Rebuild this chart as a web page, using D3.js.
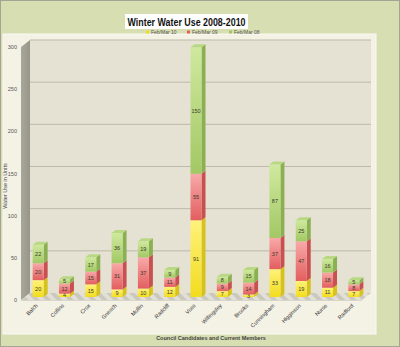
<!DOCTYPE html>
<html><head><meta charset="utf-8">
<script src="https://cdn.jsdelivr.net/npm/d3@7/dist/d3.min.js"></script>
<style>body{margin:0;background:#fff}svg{display:block}text{font-family:"Liberation Sans",Arial,sans-serif}</style>
</head><body><svg id="c" width="400" height="347"></svg>
<script>
const categories = ["Balch","Collins","Crox","Gnesch","Mullin","Radcliff","Voss","Willingsley","Brooks","Cunningham","Higginson","Nurse","Radford"];
const seriesNames = ["Feb/Mar 10","Feb/Mar 09","Feb/Mar 08"];
const feb10 = [20,4,15,9,10,12,91,7,3,33,19,11,7];
const feb09 = [20,12,15,31,37,11,55,9,14,37,47,18,8];
const feb08 = [22,5,17,36,19,9,150,8,15,87,25,16,5];
const yTicks = [0,50,100,150,200,250,300];

const svg = d3.select("#c");
const defs = svg.append("defs");
const cols = [
  {top:"#fff27a", bot:"#f2dc1e", side:"#d6c21a"},
  {top:"#f8a9a9", bot:"#e35e5e", side:"#c85050"},
  {top:"#cfe99e", bot:"#a2c864", side:"#8bb052"}
];
cols.forEach((c,i)=>{
  const g = defs.append("linearGradient").attr("id","g"+i).attr("x1",0).attr("y1",0).attr("x2",0).attr("y2",1);
  g.append("stop").attr("offset","0%").attr("stop-color",c.top);
  g.append("stop").attr("offset","100%").attr("stop-color",c.bot);
});
const sw = defs.append("linearGradient").attr("id","sideWall").attr("x1",0).attr("x2",1);
sw.append("stop").attr("offset","0%").attr("stop-color","#a8a79b");
sw.append("stop").attr("offset","100%").attr("stop-color","#979689");
const pat = defs.append("pattern").attr("id","hatch").attr("width",8).attr("height",8).attr("patternUnits","userSpaceOnUse").attr("patternTransform","rotate(-45)");
pat.append("rect").attr("width",8).attr("height",8).attr("fill","#cbc9bd");
pat.append("rect").attr("width",4).attr("height",8).attr("fill","#e2e0d6");

// background
svg.append("rect").attr("x",0.5).attr("y",0.5).attr("width",399).attr("height",346).attr("fill","#d7deb2").attr("stroke","#a3a592");
svg.append("rect").attr("x",3).attr("y",34).attr("width",373).attr("height",300).attr("fill","#f4f1e5").attr("stroke","#fbfaf3");

// geometry
const DX = 9, DY = -7;
const y = d3.scaleLinear().domain([0,300]).range([300,47]);
const x = d3.scaleBand().domain(categories).range([25,367]);
const xL = 21, xR = 362;

// back wall
svg.append("rect").attr("x",xL+DX).attr("y",y(300)+DY).attr("width",xR-xL).attr("height",y(0)-y(300)).attr("fill","#e5e2d3");
svg.append("g").selectAll("line").data(yTicks.filter(d=>d>0)).join("line")
  .attr("x1",xL+DX).attr("x2",xR+DX).attr("y1",d=>y(d)+DY).attr("y2",d=>y(d)+DY)
  .attr("stroke","#bdbaa9").attr("stroke-width",1);
// side wall
svg.append("polygon").attr("points",[[xL,y(300)],[xL+DX,y(300)+DY],[xL+DX,y(0)+DY],[xL,y(0)]].join(" ")).attr("fill","url(#sideWall)");
// floor
svg.append("polygon").attr("points",[[xL,y(0)],[xR,y(0)],[xR+DX,y(0)+DY],[xL+DX,y(0)+DY]].join(" ")).attr("fill","url(#hatch)");
svg.append("line").attr("x1",xL).attr("x2",xR).attr("y1",y(0)+0.5).attr("y2",y(0)+0.5).attr("stroke","#d8d6cb");

// y axis labels
svg.append("g").selectAll("text").data(yTicks).join("text")
  .attr("x",17).attr("y",d=>y(d)+2).attr("text-anchor","end")
  .attr("font-size",5.5).attr("fill","#555").text(d=>d);

// bars
const stack = d3.stack().keys([0,1,2])(categories.map((c,i)=>({0:feb10[i],1:feb09[i],2:feb08[i]})));
const BW = 11, BD = 4, BH = 3, base = -3;
const bars = svg.append("g");
categories.forEach((cat,i)=>{
  const cx = x(cat)+x.bandwidth()/2;
  const x0 = cx-BW/2, x1 = cx+BW/2;
  stack.forEach((s,k)=>{
    const y0 = y(s[i][0])+base, y1 = y(s[i][1])+base;
    bars.append("polygon").attr("points",[[x1,y0],[x1+BD,y0-BH],[x1+BD,y1-BH],[x1,y1]].join(" ")).attr("fill",cols[k].side);
    bars.append("rect").attr("x",x0).attr("y",y1).attr("width",BW).attr("height",y0-y1).attr("fill","url(#g"+k+")");
    if(k===2){
      bars.append("polygon").attr("points",[[x0,y1],[x0+BD,y1-BH],[x1+BD,y1-BH],[x1,y1]].join(" ")).attr("fill","#b8d883");
    }
    bars.append("text").attr("x",cx).attr("y",(y0+y1)/2+2).attr("text-anchor","middle")
      .attr("font-size",5.5).attr("fill","#3a3a2a").text(s[i].data[k]);
  });
  svg.append("text").attr("transform",`translate(${cx},306) rotate(-45)`).attr("text-anchor","end")
    .attr("font-size",5.5).attr("fill","#333").text(cat);
});

// axis titles
svg.append("text").attr("transform","translate(7,186) rotate(-90)").attr("text-anchor","middle")
  .attr("font-size",5.5).attr("fill","#444").text("Water Use in Units");
svg.append("text").attr("x",211).attr("y",340).attr("text-anchor","middle")
  .attr("font-size",5.5).attr("font-weight","bold").attr("fill","#444").text("Council Candidates and Current Members");

// title
svg.append("rect").attr("x",125).attr("y",14).attr("width",123).attr("height",15).attr("fill","#fff");
svg.append("text").attr("x",186.5).attr("y",26).attr("text-anchor","middle").attr("font-size",11.5)
  .attr("font-weight","bold").attr("textLength",118).attr("lengthAdjust","spacingAndGlyphs").attr("fill","#111").text("Winter Water Use 2008-2010");

// legend
const legX = [146,187,229];
const lg = svg.append("g");
seriesNames.forEach((n,k)=>{
  lg.append("rect").attr("x",legX[k]).attr("y",30.5).attr("width",3).attr("height",3).attr("fill",cols[k].bot);
  lg.append("text").attr("x",legX[k]+5).attr("y",33.8).attr("font-size",5).attr("fill","#555").text(n);
});
</script></body></html>
